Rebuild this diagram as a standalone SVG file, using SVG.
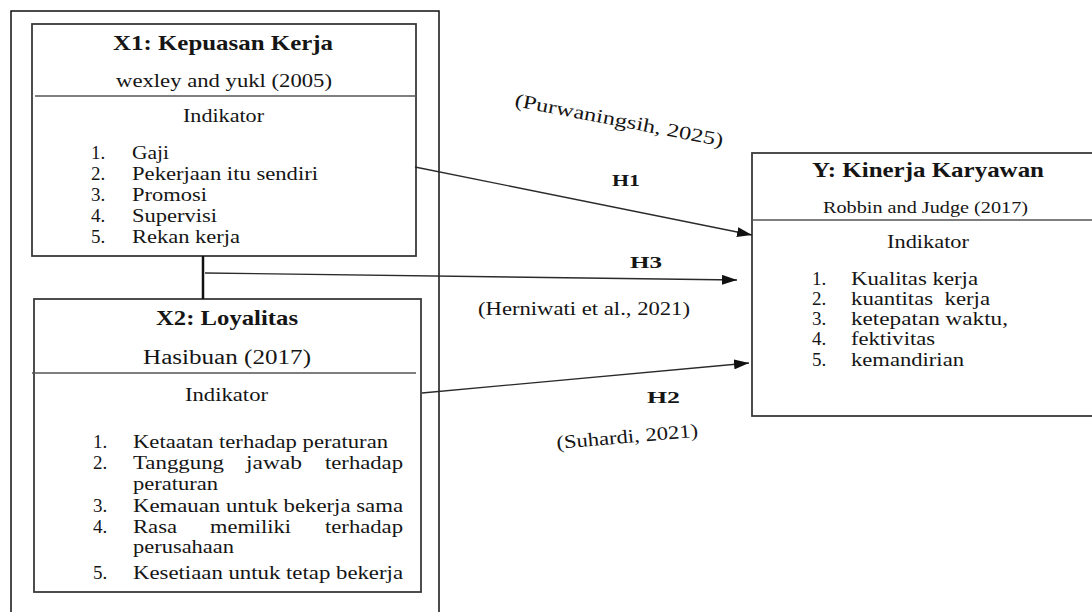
<svg xmlns="http://www.w3.org/2000/svg" width="1092" height="612" viewBox="0 0 1092 612">
<style>
.t{font-family:"Liberation Serif","Times New Roman",serif;fill:#151515;font-size:19px}
.b{font-weight:bold;font-size:21px}
.h{font-weight:bold;font-size:17px}
.box{fill:#fff;stroke:#3a3a3a;stroke-width:1.8}
.div{stroke:#555;stroke-width:1.6}
.con{stroke:#2a2a2a;stroke-width:1.3;fill:none}
</style>
<defs>
<marker id="arr" markerUnits="userSpaceOnUse" markerWidth="16" markerHeight="10" refX="15" refY="5" orient="auto">
<path d="M0,0 L15,5 L0,10 z" fill="#111"/>
</marker>
</defs>
<rect width="1092" height="612" fill="#fff"/>
<rect x="11" y="11" width="428" height="620" fill="none" stroke="#111" stroke-width="1.5"/>

<g id="x1">
<rect class="box" x="32" y="24" width="384" height="232"/>
<line class="div" x1="35" y1="96" x2="416" y2="96"/>
<text class="t b" x="113" y="50" textLength="220" lengthAdjust="spacingAndGlyphs">X1: Kepuasan Kerja</text>
<text class="t" x="116" y="87" textLength="216" lengthAdjust="spacingAndGlyphs">wexley and yukl (2005)</text>
<text class="t" x="183" y="122" textLength="81" lengthAdjust="spacingAndGlyphs">Indikator</text>
<text class="t" x="91" y="159">1.</text>
<text class="t" x="91" y="180">2.</text>
<text class="t" x="91" y="201">3.</text>
<text class="t" x="91" y="222">4.</text>
<text class="t" x="91" y="243">5.</text>
<text class="t" x="132" y="159" textLength="37" lengthAdjust="spacingAndGlyphs">Gaji</text>
<text class="t" x="132" y="180" textLength="186" lengthAdjust="spacingAndGlyphs">Pekerjaan itu sendiri</text>
<text class="t" x="132" y="201" textLength="75" lengthAdjust="spacingAndGlyphs">Promosi</text>
<text class="t" x="132" y="222" textLength="85" lengthAdjust="spacingAndGlyphs">Supervisi</text>
<text class="t" x="132" y="243" textLength="108" lengthAdjust="spacingAndGlyphs">Rekan kerja</text>
</g>

<g id="x2">
<rect class="box" x="34" y="299" width="387" height="293"/>
<line class="div" x1="32" y1="373" x2="416" y2="373"/>
<text class="t b" x="156" y="325" textLength="142" lengthAdjust="spacingAndGlyphs">X2: Loyalitas</text>
<text class="t" x="143" y="364" style="font-size:20px" textLength="168" lengthAdjust="spacingAndGlyphs">Hasibuan (2017)</text>
<text class="t" x="185" y="401" textLength="83" lengthAdjust="spacingAndGlyphs">Indikator</text>
<text class="t" x="93" y="448">1.</text>
<text class="t" x="93" y="469">2.</text>
<text class="t" x="93" y="512">3.</text>
<text class="t" x="93" y="533">4.</text>
<text class="t" x="93" y="579">5.</text>
<text class="t" x="133" y="448" textLength="255" lengthAdjust="spacingAndGlyphs">Ketaatan terhadap peraturan</text>
<text class="t" x="133" y="469" textLength="91" lengthAdjust="spacingAndGlyphs">Tanggung</text>
<text class="t" x="246" y="469" textLength="56" lengthAdjust="spacingAndGlyphs">jawab</text>
<text class="t" x="325" y="469" textLength="78" lengthAdjust="spacingAndGlyphs">terhadap</text>
<text class="t" x="133" y="490" textLength="85" lengthAdjust="spacingAndGlyphs">peraturan</text>
<text class="t" x="133" y="512" textLength="270" lengthAdjust="spacingAndGlyphs">Kemauan untuk bekerja sama</text>
<text class="t" x="133" y="533" textLength="44" lengthAdjust="spacingAndGlyphs">Rasa</text>
<text class="t" x="210" y="533" textLength="81" lengthAdjust="spacingAndGlyphs">memiliki</text>
<text class="t" x="325" y="533" textLength="78" lengthAdjust="spacingAndGlyphs">terhadap</text>
<text class="t" x="133" y="553" textLength="101" lengthAdjust="spacingAndGlyphs">perusahaan</text>
<text class="t" x="133" y="579" textLength="270" lengthAdjust="spacingAndGlyphs">Kesetiaan untuk tetap bekerja</text>
</g>

<g id="y">
<rect class="box" x="752" y="153" width="360" height="263"/>
<line class="div" x1="752" y1="220" x2="1092" y2="220"/>
<text class="t b" x="812" y="177" textLength="232" lengthAdjust="spacingAndGlyphs">Y: Kinerja Karyawan</text>
<text class="t" x="823" y="213" style="font-size:17px" textLength="205" lengthAdjust="spacingAndGlyphs">Robbin and Judge (2017)</text>
<text class="t" x="887" y="248" textLength="82" lengthAdjust="spacingAndGlyphs">Indikator</text>
<text class="t" x="812" y="285">1.</text>
<text class="t" x="812" y="305">2.</text>
<text class="t" x="812" y="325">3.</text>
<text class="t" x="812" y="345">4.</text>
<text class="t" x="812" y="366">5.</text>
<text class="t" x="851" y="285" textLength="127" lengthAdjust="spacingAndGlyphs">Kualitas kerja</text>
<text class="t" x="851" y="305" textLength="139" lengthAdjust="spacingAndGlyphs" xml:space="preserve">kuantitas  kerja</text>
<text class="t" x="851" y="325" textLength="157" lengthAdjust="spacingAndGlyphs">ketepatan waktu,</text>
<text class="t" x="851" y="345" textLength="84" lengthAdjust="spacingAndGlyphs">fektivitas</text>
<text class="t" x="851" y="366" textLength="113" lengthAdjust="spacingAndGlyphs">kemandirian</text>
</g>

<g id="connectors">
<line x1="203" y1="256" x2="203" y2="299" stroke="#111" stroke-width="2.5"/>
<line class="con" x1="415" y1="167" x2="752" y2="235" marker-end="url(#arr)"/>
<line class="con" x1="205" y1="273" x2="737" y2="280" marker-end="url(#arr)"/>
<line class="con" x1="422" y1="393" x2="749" y2="363" marker-end="url(#arr)"/>
</g>

<g id="labels">
<text class="t" x="514" y="106" transform="rotate(11 514 106)" textLength="212" lengthAdjust="spacingAndGlyphs">(Purwaningsih, 2025)</text>
<text class="t h" x="612" y="186" textLength="28" lengthAdjust="spacingAndGlyphs">H1</text>
<text class="t h" x="630" y="268" textLength="32" lengthAdjust="spacingAndGlyphs">H3</text>
<text class="t" x="478" y="315" textLength="212" lengthAdjust="spacingAndGlyphs">(Herniwati et al., 2021)</text>
<text class="t h" x="647" y="403" textLength="33" lengthAdjust="spacingAndGlyphs">H2</text>
<text class="t" x="557" y="449" transform="rotate(-5 557 449)" textLength="142" lengthAdjust="spacingAndGlyphs">(Suhardi, 2021)</text>
</g>
</svg>
